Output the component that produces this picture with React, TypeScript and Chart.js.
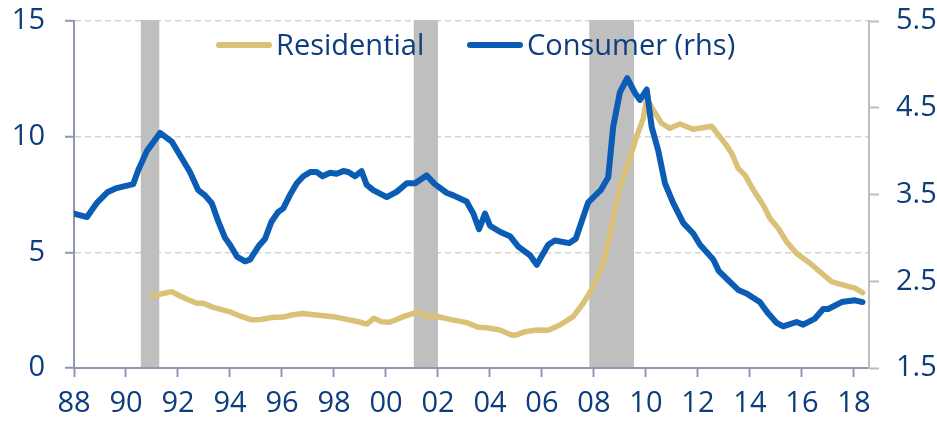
import React, { useEffect, useRef } from "react";
import { Chart, registerables } from "chart.js";

Chart.register(...registerables);

// ---- Data ----
const seriesNames = ["Residential", "Consumer (rhs)"];

const residentialDates = [
  1990.99, 1991.76, 1992.08, 1992.33, 1992.72, 1992.97, 1993.36, 1994.0, 1994.38, 1994.8,
  1995.2, 1995.6, 1996.05, 1996.37, 1996.8, 1997.33, 1997.97, 1998.49, 1998.94, 1999.26,
  1999.54, 1999.83, 2000.15, 2000.67, 2001.24, 2001.5, 2001.88, 2002.46, 2003.1, 2003.55,
  2003.87, 2004.38, 2004.83, 2005.03, 2005.35, 2005.8, 2006.24, 2006.69, 2007.2, 2007.59,
  2007.97, 2008.36, 2008.68, 2009.0, 2009.32, 2009.64, 2009.9, 2010.03, 2010.28, 2010.6,
  2010.92, 2011.31, 2011.82, 2012.53, 2013.04, 2013.3, 2013.55, 2013.81, 2014.13, 2014.51,
  2014.77, 2015.09, 2015.41, 2015.79, 2016.31, 2016.69, 2017.14, 2017.46, 2018.04, 2018.33,
];
const residentialRate = [
  3.11, 3.3, 3.11, 2.98, 2.8, 2.8, 2.62, 2.43, 2.25, 2.09,
  2.1, 2.18, 2.2, 2.29, 2.36, 2.29, 2.22, 2.1, 2.0, 1.9,
  2.15, 2.0, 1.98, 2.22, 2.43, 2.22, 2.25, 2.1, 1.96, 1.76,
  1.74, 1.64, 1.43, 1.43, 1.57, 1.64, 1.63, 1.86, 2.22, 2.8,
  3.51, 4.53, 6.11, 7.84, 8.85, 10.0, 10.8, 11.66, 11.15, 10.58,
  10.36, 10.55, 10.32, 10.45, 9.71, 9.28, 8.63, 8.34, 7.7, 7.05,
  6.47, 6.04, 5.46, 4.96, 4.53, 4.16, 3.73, 3.63, 3.45, 3.26,
];

const consumerDates = [
  1988.0, 1988.5, 1988.87, 1989.3, 1989.6, 1990.28, 1990.47, 1990.8, 1991.31, 1991.76,
  1992.14, 1992.46, 1992.78, 1993.04, 1993.3, 1993.55, 1993.81, 1994.0, 1994.28, 1994.58,
  1994.77, 1995.09, 1995.35, 1995.6, 1995.86, 1996.05, 1996.3, 1996.57, 1996.82, 1997.1,
  1997.33, 1997.56, 1997.85, 1998.1, 1998.36, 1998.55, 1998.81, 1999.06, 1999.26, 1999.51,
  2000.03, 2000.41, 2000.8, 2001.12, 2001.56, 2001.88, 2002.33, 2002.59, 2003.1, 2003.36,
  2003.58, 2003.81, 2004.0, 2004.38, 2004.77, 2005.09, 2005.54, 2005.8, 2006.24, 2006.5,
  2007.05, 2007.3, 2007.78, 2008.26, 2008.55, 2008.74, 2009.0, 2009.28, 2009.58, 2009.77,
  2010.03, 2010.22, 2010.47, 2010.73, 2011.05, 2011.44, 2011.82, 2012.08, 2012.59, 2012.8,
  2013.1, 2013.55, 2013.87, 2014.38, 2014.7, 2015.03, 2015.28, 2015.79, 2016.05, 2016.5,
  2016.82, 2017.01, 2017.53, 2018.04, 2018.33,
];
const consumerRate = [
  3.28, 3.24, 3.4, 3.53, 3.57, 3.62, 3.78, 4.0, 4.21, 4.11,
  3.92, 3.76, 3.55, 3.49, 3.4, 3.19, 3.0, 2.92, 2.78, 2.73,
  2.75, 2.9, 2.99, 3.19, 3.3, 3.34, 3.49, 3.63, 3.71, 3.76,
  3.76, 3.71, 3.75, 3.74, 3.77, 3.76, 3.71, 3.77, 3.61, 3.55,
  3.47, 3.53, 3.63, 3.63, 3.72, 3.62, 3.52, 3.49, 3.42, 3.28,
  3.1, 3.28, 3.14, 3.07, 3.02, 2.9, 2.8, 2.69, 2.92, 2.97,
  2.94, 2.99, 3.41, 3.55, 3.7, 4.28, 4.68, 4.84, 4.67, 4.59,
  4.71, 4.28, 4.01, 3.63, 3.4, 3.17, 3.05, 2.92, 2.75, 2.62,
  2.53, 2.4, 2.36, 2.26, 2.13, 2.02, 1.98, 2.03, 2.0, 2.07,
  2.18, 2.18, 2.26, 2.28, 2.26,
];

const recessionStarts = [1990.57, 2001.07, 2007.82];
const recessionEnds = [1991.28, 2002.0, 2009.54];

const xTickYears = [1988, 1990, 1992, 1994, 1996, 1998, 2000, 2002, 2004, 2006, 2008, 2010, 2012, 2014, 2016, 2018];
const leftTicks = [0, 5, 10, 15];
const rightTicks = [1.5, 2.5, 3.5, 4.5, 5.5];
const xMin = 1988;
const xMax = 2018.58;

// ---- Styles ----
const BLUE = "#0a5cb5";
const GOLD = "#dbc077";
const NAVY = "#0d3d7c";
const AXIS = "#8e97b4";
const RIGHT_AXIS = "#bdbdbd";
const GRID = "#d4d4d4";
const SHADE = "#bfbfbf";
const FONT = '"Open Sans", "Noto Sans", sans-serif';

const recessionPlugin = {
  id: "recessions",
  beforeDatasetsDraw(chart: any) {
    const { ctx, chartArea, scales } = chart;
    const xs = scales.x;
    ctx.save();
    ctx.fillStyle = SHADE;
    recessionStarts.forEach((s, i) => {
      const x1 = xs.getPixelForValue(s);
      const x2 = xs.getPixelForValue(recessionEnds[i]);
      ctx.fillRect(x1, chartArea.top - 1, x2 - x1, chartArea.bottom - chartArea.top);
    });
    ctx.restore();
  },
};

const legendPlugin = {
  id: "customLegend",
  afterDatasetsDraw(chart: any) {
    const { ctx, chartArea } = chart;
    const items = [
      { label: seriesNames[0], color: GOLD, x: chartArea.left + 145 },
      { label: seriesNames[1], color: BLUE, x: chartArea.left + 396 },
    ];
    const yLine = chartArea.top + 24;
    ctx.save();
    ctx.font = `29px ${FONT}`;
    ctx.textBaseline = "alphabetic";
    ctx.textAlign = "left";
    items.forEach((it) => {
      ctx.strokeStyle = it.color;
      ctx.lineWidth = 6;
      ctx.lineCap = "round";
      ctx.beginPath();
      ctx.moveTo(it.x, yLine);
      ctx.lineTo(it.x + 50, yLine);
      ctx.stroke();
      ctx.fillStyle = NAVY;
      ctx.fillText(it.label, it.x + 57, yLine + 10);
    });
    ctx.restore();
  },
};

const zeroPad = (s: any) => {
  s.paddingTop = 0;
  s.paddingBottom = 0;
  s.paddingLeft = 0;
  s.paddingRight = 0;
};

export default function App() {
  const ref = useRef<HTMLCanvasElement>(null);

  useEffect(() => {
    if (!ref.current) return;
    const residentialData = residentialDates.map((x, i) => ({ x, y: residentialRate[i] }));
    const consumerData = consumerDates.map((x, i) => ({ x, y: consumerRate[i] }));

    const chart = new Chart(ref.current, {
      type: "line",
      data: {
        datasets: [
          {
            label: seriesNames[0],
            data: residentialData,
            borderColor: GOLD,
            backgroundColor: GOLD,
            borderWidth: 5.5,
            pointRadius: 0,
            tension: 0,
            yAxisID: "y",
            order: 1,
            borderCapStyle: "round",
            borderJoinStyle: "round",
          },
          {
            label: seriesNames[1],
            data: consumerData,
            borderColor: BLUE,
            backgroundColor: BLUE,
            borderWidth: 6,
            pointRadius: 0,
            tension: 0,
            yAxisID: "y1",
            order: 0,
            borderCapStyle: "round",
            borderJoinStyle: "round",
          },
        ],
      },
      options: {
        animation: false,
        responsive: false,
        layout: { padding: { top: 21, left: 0, right: 0, bottom: 0 } },
        plugins: {
          legend: { display: false },
          tooltip: { enabled: false },
        },
        scales: {
          x: {
            type: "linear",
            min: xMin,
            max: xMax,
            afterBuildTicks: (s: any) => {
              s.ticks = xTickYears.map((v) => ({ value: v }));
            },
            afterFit: (s: any) => {
              s.height = 53;
              zeroPad(s);
            },
            grid: {
              drawOnChartArea: false,
              drawTicks: true,
              tickLength: 9,
              tickColor: AXIS,
              tickWidth: 2,
            },
            border: { display: true, color: AXIS, width: 2 },
            ticks: {
              color: NAVY,
              font: { family: FONT, size: 29 },
              padding: 9,
              maxRotation: 0,
              autoSkip: false,
              callback: (v: any) => String(Math.round(v) % 100).padStart(2, "0"),
            },
          },
          y: {
            position: "left",
            min: 0,
            max: 15,
            afterBuildTicks: (s: any) => {
              s.ticks = leftTicks.map((v) => ({ value: v }));
            },
            afterFit: (s: any) => {
              s.width = 74;
              zeroPad(s);
            },
            grid: {
              drawOnChartArea: true,
              color: (c: any) => (c.tick && c.tick.value === 0 ? "rgba(0,0,0,0)" : GRID),
              lineWidth: 1.5,
              drawTicks: true,
              tickLength: 9,
              tickColor: AXIS,
              tickWidth: 2,
            },
            border: { display: true, color: AXIS, width: 2, dash: [6, 4] },
            ticks: {
              color: NAVY,
              font: { family: FONT, size: 29 },
              padding: 20,
              callback: (v: any) => String(v),
            },
          },
          y1: {
            position: "right",
            min: 1.5,
            max: 5.5,
            afterBuildTicks: (s: any) => {
              s.ticks = rightTicks.map((v) => ({ value: v }));
            },
            afterFit: (s: any) => {
              s.width = 68;
              zeroPad(s);
            },
            grid: {
              drawOnChartArea: false,
              drawTicks: true,
              tickLength: 10,
              tickColor: RIGHT_AXIS,
              tickWidth: 2,
            },
            border: { display: true, color: RIGHT_AXIS, width: 2 },
            ticks: {
              color: NAVY,
              font: { family: FONT, size: 29 },
              padding: 17,
              callback: (v: any) => Number(v).toFixed(1),
            },
          },
        },
      },
      plugins: [recessionPlugin, legendPlugin],
    });
    return () => chart.destroy();
  }, []);

  return (
    <canvas
      ref={ref}
      width={937}
      height={421}
      style={{ position: "absolute", left: 0, top: 0, display: "block" }}
    />
  );
}
